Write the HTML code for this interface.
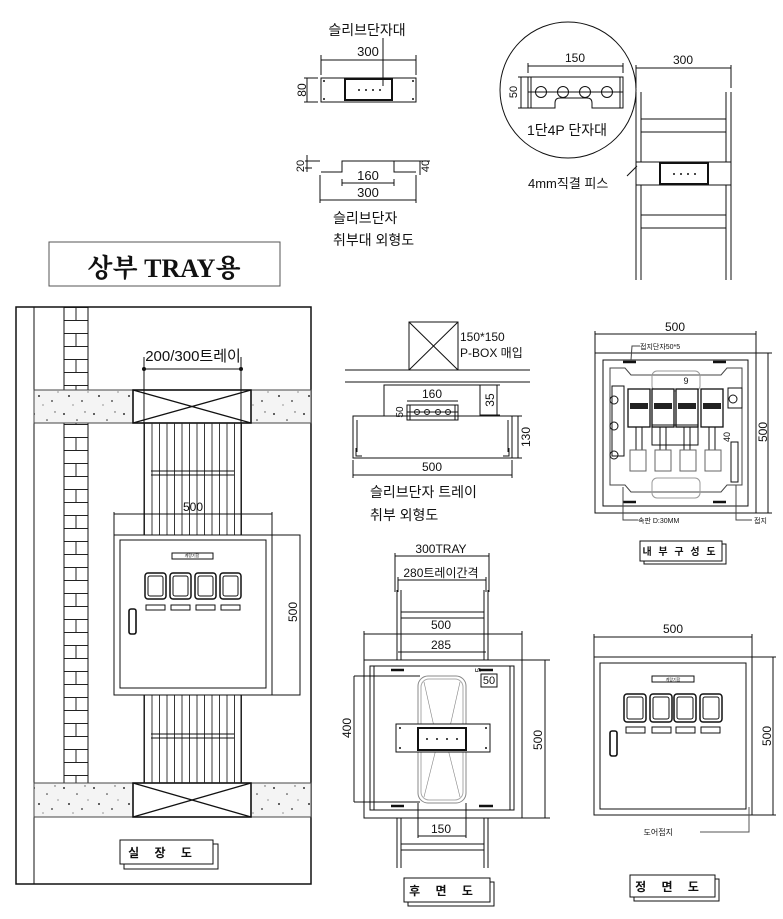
<!DOCTYPE html>
<html><head><meta charset="utf-8"><style>
html,body{margin:0;padding:0;background:#fff}
svg{display:block}
text{font-family:"Liberation Sans","Noto Sans CJK KR",sans-serif;fill:#111}
</style></head><body>
<svg width="783" height="919" viewBox="0 0 783 919" xmlns="http://www.w3.org/2000/svg">
<defs>
<pattern id="conc" width="30" height="34" patternUnits="userSpaceOnUse">
<rect width="30" height="34" fill="#f4f4f4"/>
<circle cx="4" cy="6" r="1" fill="#333"/><circle cx="17" cy="12" r="0.8" fill="#333"/>
<circle cx="25" cy="4" r="0.7" fill="#555"/><circle cx="9" cy="22" r="1" fill="#333"/>
<circle cx="22" cy="27" r="0.9" fill="#333"/><circle cx="13" cy="31" r="0.6" fill="#555"/>
<circle cx="28" cy="18" r="0.6" fill="#555"/>
</pattern>
<pattern id="brick" x="64" y="307" width="24" height="26" patternUnits="userSpaceOnUse">
<rect width="24" height="26" fill="#fff"/>
<line x1="0" y1="0.5" x2="24" y2="0.5" stroke="#222" stroke-width="1"/>
<line x1="0" y1="13.5" x2="24" y2="13.5" stroke="#222" stroke-width="1"/>
<line x1="12" y1="0" x2="12" y2="13" stroke="#222" stroke-width="1"/>
</pattern>
<pattern id="rails" x="144" y="0" width="7.5" height="10" patternUnits="userSpaceOnUse">
<line x1="0.5" y1="0" x2="0.5" y2="10" stroke="#222" stroke-width="0.9"/>
</pattern>
</defs>

<g stroke="#111" fill="none" stroke-width="1">
<line x1="383" y1="38" x2="383" y2="86"/>
<line x1="321" y1="60" x2="416" y2="60"/><line x1="321" y1="55" x2="321" y2="75"/><line x1="416" y1="55" x2="416" y2="75"/>
<rect x="321" y="78" width="95" height="24"/>
<rect x="345" y="79" width="47" height="21" stroke-width="2"/>
<line x1="307" y1="78" x2="307" y2="102"/><line x1="304" y1="78" x2="318" y2="78"/><line x1="304" y1="102" x2="318" y2="102"/>
<polyline points="321,172 342,172 342,161 394,161 394,172 416,172"/>
<line x1="342" y1="183" x2="394" y2="183"/><line x1="342" y1="179" x2="342" y2="186"/><line x1="394" y1="179" x2="394" y2="186"/>
<line x1="320" y1="200" x2="416" y2="200"/><line x1="320" y1="175" x2="320" y2="203"/><line x1="416" y1="175" x2="416" y2="203"/>
<line x1="305" y1="161" x2="320" y2="161"/><line x1="305" y1="168" x2="312" y2="168"/><line x1="307" y1="155" x2="307" y2="172"/>
<line x1="394" y1="161" x2="430" y2="161"/><line x1="420" y1="161" x2="420" y2="175"/>

<circle cx="568" cy="90" r="68"/>
<line x1="528" y1="66" x2="623" y2="66"/><line x1="528" y1="63" x2="528" y2="73"/><line x1="623" y1="63" x2="623" y2="73"/>
<path d="M528,77 H623 V108 H592 V103 Q592,98 587,98 H560 Q555,98 555,103 V108 H528 Z"/>
<line x1="620" y1="77" x2="620" y2="108"/><line x1="531" y1="77" x2="531" y2="108"/>
<line x1="528" y1="92" x2="623" y2="92"/>
<circle cx="541" cy="92" r="5.5"/><circle cx="563" cy="92" r="5.5"/><circle cx="585" cy="92" r="5.5"/><circle cx="607" cy="92" r="5.5"/>
<line x1="521" y1="77" x2="521" y2="108"/><line x1="518" y1="77" x2="528" y2="77"/><line x1="518" y1="108" x2="528" y2="108"/>

<line x1="636" y1="68" x2="731" y2="68"/><line x1="636" y1="65" x2="636" y2="88"/><line x1="731" y1="65" x2="731" y2="88"/>
<line x1="636" y1="92" x2="636" y2="280"/><line x1="641" y1="92" x2="641" y2="280"/>
<line x1="726" y1="92" x2="726" y2="280"/><line x1="731" y1="92" x2="731" y2="280"/>
<line x1="641" y1="119" x2="726" y2="119"/><line x1="641" y1="132" x2="726" y2="132"/>
<line x1="641" y1="215" x2="726" y2="215"/><line x1="641" y1="228" x2="726" y2="228"/>
<rect x="636" y="162" width="95" height="23" fill="#fff"/>
<rect x="660" y="163" width="48" height="21" stroke-width="2"/>
<line x1="627" y1="176" x2="637" y2="166"/>

<rect x="49" y="242" width="231" height="44" stroke="#555"/>

<rect x="16" y="307" width="295" height="577" stroke-width="1.5"/>
<line x1="34" y1="307" x2="34" y2="884"/>
<rect x="64" y="307" width="24" height="476" fill="url(#brick)"/>
<rect x="64" y="307" width="24" height="476"/>
<rect x="34" y="390" width="277" height="33" fill="url(#conc)" stroke="#444"/>
<rect x="34" y="783" width="277" height="34" fill="url(#conc)" stroke="#444"/>
<rect x="133" y="390" width="118" height="33" fill="#fff" stroke-width="1.6"/>
<line x1="133" y1="390" x2="251" y2="423" stroke-width="1.4"/><line x1="133" y1="423" x2="251" y2="390" stroke-width="1.4"/>
<rect x="133" y="783" width="118" height="34" fill="#fff" stroke-width="1.6"/>
<line x1="133" y1="783" x2="251" y2="817" stroke-width="1.4"/><line x1="133" y1="817" x2="251" y2="783" stroke-width="1.4"/>
<rect x="144" y="423" width="98" height="112" fill="url(#rails)" stroke="none"/>
<rect x="144" y="693" width="98" height="90" fill="url(#rails)" stroke="none"/>
<line x1="144" y1="357" x2="144" y2="535"/><line x1="241" y1="357" x2="241" y2="535"/>
<line x1="144" y1="693" x2="144" y2="783"/><line x1="241" y1="693" x2="241" y2="783"/>
<line x1="151" y1="471" x2="234" y2="471"/><line x1="151" y1="475" x2="234" y2="475"/>
<line x1="151" y1="734" x2="234" y2="734"/><line x1="151" y1="738" x2="234" y2="738"/>
<line x1="144" y1="369" x2="241" y2="369"/><circle cx="144" cy="369" r="1.5" fill="#111"/><circle cx="241" cy="369" r="1.5" fill="#111"/>
<line x1="114" y1="514" x2="272" y2="514"/><line x1="114" y1="512" x2="114" y2="535"/><line x1="272" y1="512" x2="272" y2="535"/>
<rect x="114" y="535" width="186" height="160" fill="#fff"/>
<rect x="120" y="540" width="146" height="148"/>
<line x1="272" y1="535" x2="272" y2="695"/>
<rect x="172" y="553" width="41" height="6"/>
<rect x="145" y="573" width="21" height="26" rx="3" stroke-width="1.5"/><rect x="148" y="576" width="15" height="20" rx="2"/>
<rect x="170" y="573" width="21" height="26" rx="3" stroke-width="1.5"/><rect x="173" y="576" width="15" height="20" rx="2"/>
<rect x="195" y="573" width="21" height="26" rx="3" stroke-width="1.5"/><rect x="198" y="576" width="15" height="20" rx="2"/>
<rect x="220" y="573" width="21" height="26" rx="3" stroke-width="1.5"/><rect x="223" y="576" width="15" height="20" rx="2"/>
<rect x="146" y="605" width="19" height="5"/><rect x="171" y="605" width="19" height="5"/><rect x="196" y="605" width="19" height="5"/><rect x="221" y="605" width="19" height="5"/>
<rect x="129" y="609" width="7" height="25" rx="2" stroke-width="1.6"/>
<rect x="124" y="844" width="94" height="25" fill="#fff"/><rect x="120" y="840" width="93" height="24" fill="#fff"/>

<rect x="409" y="322" width="49" height="48"/>
<line x1="409" y1="322" x2="458" y2="370"/><line x1="458" y1="322" x2="409" y2="370"/>
<line x1="345" y1="370" x2="530" y2="370"/><line x1="345" y1="382" x2="530" y2="382"/>
<rect x="384" y="385" width="96" height="31"/>
<line x1="480" y1="385" x2="500" y2="385"/><line x1="480" y1="415" x2="500" y2="415"/><line x1="497" y1="385" x2="497" y2="415"/>
<line x1="407" y1="401" x2="458" y2="401"/>
<rect x="407" y="405" width="51" height="15" fill="#fff"/><line x1="410" y1="405" x2="410" y2="420"/><line x1="455" y1="405" x2="455" y2="420"/>
<line x1="407" y1="412" x2="458" y2="412"/>
<circle cx="417" cy="412" r="2.5"/><circle cx="427" cy="412" r="2.5"/><circle cx="438" cy="412" r="2.5"/><circle cx="448" cy="412" r="2.5"/>
<rect x="353" y="416" width="159" height="42"/>
<line x1="357" y1="420" x2="357" y2="452"/><line x1="508" y1="420" x2="508" y2="452"/>
<polyline points="356,448 356,456 362,456"/><polyline points="509,448 509,456 503,456"/>
<line x1="512" y1="416" x2="522" y2="416"/><line x1="512" y1="458" x2="522" y2="458"/><line x1="518" y1="416" x2="518" y2="458"/>
<line x1="353" y1="460" x2="353" y2="478"/><line x1="512" y1="460" x2="512" y2="478"/><line x1="353" y1="475" x2="512" y2="475"/>

<line x1="395" y1="556" x2="489" y2="556"/><line x1="395" y1="553" x2="395" y2="592"/><line x1="489" y1="553" x2="489" y2="592"/>
<line x1="398" y1="580" x2="486" y2="580"/><line x1="398" y1="577" x2="398" y2="592"/><line x1="486" y1="577" x2="486" y2="592"/>
<line x1="397" y1="590" x2="397" y2="868"/><line x1="401" y1="590" x2="401" y2="868"/>
<line x1="484" y1="590" x2="484" y2="868"/><line x1="488" y1="590" x2="488" y2="868"/>
<line x1="401" y1="612" x2="484" y2="612"/><line x1="401" y1="618" x2="484" y2="618"/>
<line x1="401" y1="844" x2="484" y2="844"/><line x1="401" y1="850" x2="484" y2="850"/>
<line x1="364" y1="634" x2="522" y2="634"/><line x1="364" y1="631" x2="364" y2="660"/><line x1="522" y1="631" x2="522" y2="660"/>
<line x1="398" y1="652" x2="486" y2="652"/>
<rect x="364" y="660" width="158" height="158" fill="#fff"/>
<rect x="370" y="666" width="144" height="144"/><line x1="374" y1="666" x2="374" y2="810"/><line x1="510" y1="666" x2="510" y2="810"/>
<line x1="522" y1="660" x2="550" y2="660"/><line x1="522" y1="818" x2="550" y2="818"/><line x1="545" y1="660" x2="545" y2="818"/>
<line x1="354" y1="676" x2="354" y2="802"/><line x1="354" y1="676" x2="420" y2="676"/><line x1="354" y1="802" x2="420" y2="802"/>
<rect x="418" y="676" width="48" height="127" rx="10" stroke="#888"/>
<rect x="421" y="679" width="42" height="121" rx="8" stroke="#aaa"/>
<line x1="424" y1="682" x2="437" y2="740" stroke="#888" stroke-width="0.6"/><line x1="460" y1="682" x2="447" y2="740" stroke="#888" stroke-width="0.6"/>
<line x1="424" y1="797" x2="437" y2="745" stroke="#888" stroke-width="0.6"/><line x1="460" y1="797" x2="447" y2="745" stroke="#888" stroke-width="0.6"/>
<rect x="396" y="724" width="94" height="28" fill="#fff"/>
<rect x="418" y="728" width="48" height="22" stroke-width="2"/>
<line x1="418" y1="803" x2="418" y2="838"/><line x1="466" y1="803" x2="466" y2="838"/><line x1="418" y1="836" x2="466" y2="836"/>
<line x1="391" y1="670" x2="404" y2="670" stroke-width="2.5"/><line x1="479" y1="670" x2="493" y2="670" stroke-width="2.5"/>
<line x1="391" y1="806" x2="404" y2="806" stroke-width="2.5"/><line x1="479" y1="806" x2="493" y2="806" stroke-width="2.5"/>
<rect x="481" y="674" width="16" height="13"/>
<rect x="408" y="882" width="86" height="24" fill="#fff"/><rect x="404" y="878" width="86" height="24" fill="#fff"/>

<line x1="595" y1="334" x2="756" y2="334"/><line x1="595" y1="331" x2="595" y2="353"/><line x1="756" y1="331" x2="756" y2="353"/>
<rect x="595" y="353" width="161" height="160"/>
<rect x="603" y="360" width="145" height="146"/>
<line x1="756" y1="353" x2="772" y2="353"/><line x1="756" y1="513" x2="772" y2="513"/><line x1="768" y1="353" x2="768" y2="513"/>
<path d="M610,368 H625 L631,375 H721 L727,368 H742 V485 H727 L721,492 H631 L625,485 H610 Z" stroke="#444"/>
<rect x="652" y="371" width="48" height="20" rx="5" stroke="#999"/>
<rect x="652" y="478" width="48" height="20" rx="5" stroke="#999"/>
<line x1="623" y1="362" x2="636" y2="362" stroke-width="2.5"/><line x1="713" y1="362" x2="726" y2="362" stroke-width="2.5"/>
<line x1="623" y1="502" x2="636" y2="502" stroke-width="2.5"/><line x1="713" y1="502" x2="726" y2="502" stroke-width="2.5"/>
<rect x="612" y="386" width="12" height="70"/>
<circle cx="614" cy="400" r="4"/><circle cx="614" cy="426" r="4"/><circle cx="614" cy="455" r="4"/>
<rect x="728" y="388" width="14" height="20"/><circle cx="733" cy="399" r="4"/>
<g fill="#fff" stroke-width="1.3">
<rect x="628" y="389" width="22" height="38"/><rect x="652" y="389" width="22" height="38"/><rect x="676" y="389" width="22" height="38"/><rect x="701" y="389" width="22" height="38"/>
</g>
<g fill="#222" stroke="none">
<rect x="630" y="403" width="18" height="6"/><rect x="654" y="403" width="18" height="6"/><rect x="678" y="403" width="18" height="6"/><rect x="703" y="403" width="18" height="6"/>
</g>
<rect x="652" y="425" width="46" height="20"/>
<line x1="636" y1="427" x2="636" y2="450"/><line x1="642" y1="427" x2="642" y2="450"/>
<line x1="660" y1="427" x2="660" y2="450"/><line x1="666" y1="427" x2="666" y2="450"/>
<line x1="684" y1="427" x2="684" y2="450"/><line x1="690" y1="427" x2="690" y2="450"/>
<line x1="709" y1="427" x2="709" y2="450"/><line x1="715" y1="427" x2="715" y2="450"/>
<rect x="630" y="450" width="16" height="21" stroke="#666"/><rect x="655" y="450" width="16" height="21" stroke="#666"/>
<rect x="680" y="450" width="16" height="21" stroke="#666"/><rect x="705" y="450" width="16" height="21" stroke="#666"/>
<rect x="731" y="442" width="7" height="40"/>
<polyline points="623,487 623,520 638,520" stroke="#444"/>
<polyline points="736,485 736,520 752,520" stroke="#444"/>
<polyline points="640,346 632,346 631,360" stroke="#444"/>
<rect x="644" y="544" width="82" height="20" fill="#fff"/><rect x="640" y="541" width="82" height="20" fill="#fff"/>

<line x1="594" y1="637" x2="752" y2="637"/><line x1="594" y1="634" x2="594" y2="657"/><line x1="752" y1="634" x2="752" y2="657"/>
<rect x="594" y="657" width="158" height="158"/>
<rect x="600" y="663" width="146" height="146"/>
<line x1="752" y1="657" x2="776" y2="657"/><line x1="752" y1="815" x2="776" y2="815"/><line x1="773" y1="657" x2="773" y2="815"/>
<rect x="652" y="676" width="42" height="6"/>
<rect x="624" y="694" width="22" height="28" rx="3" stroke-width="1.5"/><rect x="627" y="697" width="16" height="22" rx="2"/>
<rect x="650" y="694" width="22" height="28" rx="3" stroke-width="1.5"/><rect x="653" y="697" width="16" height="22" rx="2"/>
<rect x="674" y="694" width="22" height="28" rx="3" stroke-width="1.5"/><rect x="677" y="697" width="16" height="22" rx="2"/>
<rect x="700" y="694" width="22" height="28" rx="3" stroke-width="1.5"/><rect x="703" y="697" width="16" height="22" rx="2"/>
<rect x="626" y="727" width="19" height="6"/><rect x="652" y="727" width="19" height="6"/><rect x="676" y="727" width="19" height="6"/><rect x="701" y="727" width="19" height="6"/>
<rect x="610" y="731" width="7" height="25" rx="2" stroke-width="1.6"/>
<polyline points="700,832 749,832 749,807" stroke="#555"/>
<rect x="634" y="879" width="85" height="22" fill="#fff"/><rect x="630" y="875" width="85" height="22" fill="#fff"/>
</g>

<g fill="#111">
<circle cx="359" cy="90" r="1"/><circle cx="366" cy="90" r="1"/><circle cx="373" cy="90" r="1"/><circle cx="380" cy="90" r="1"/>
<circle cx="674" cy="174" r="1"/><circle cx="681" cy="174" r="1"/><circle cx="688" cy="174" r="1"/><circle cx="695" cy="174" r="1"/>
<circle cx="427" cy="739" r="1"/><circle cx="437" cy="739" r="1"/><circle cx="447" cy="739" r="1"/><circle cx="457" cy="739" r="1"/>
<circle cx="324" cy="81" r="1"/><circle cx="413" cy="81" r="1"/><circle cx="324" cy="99" r="1"/><circle cx="413" cy="99" r="1"/>
<circle cx="400" cy="728" r="1"/><circle cx="486" cy="728" r="1"/><circle cx="400" cy="748" r="1"/><circle cx="486" cy="748" r="1"/>
</g>

<text x="367" y="35" font-size="14" text-anchor="middle">슬리브단자대</text>
<text x="368" y="56" font-size="13" text-anchor="middle">300</text>
<text x="302" y="90" font-size="12" text-anchor="middle" transform="rotate(-90 302 90)" dy="4">80</text>
<text x="368" y="180" font-size="13" text-anchor="middle">160</text>
<text x="368" y="197" font-size="13" text-anchor="middle">300</text>
<text x="300" y="166" font-size="11" text-anchor="middle" transform="rotate(-90 300 166)" dy="4">20</text>
<text x="425" y="166" font-size="11" text-anchor="middle" transform="rotate(-90 425 166)" dy="4">40</text>
<text x="333" y="223" font-size="14">슬리브단자</text>
<text x="333" y="245" font-size="14">취부대 외형도</text>
<text x="575" y="62" font-size="12" text-anchor="middle">150</text>
<text x="513" y="92" font-size="11" text-anchor="middle" transform="rotate(-90 513 92)" dy="4">50</text>
<text x="567" y="135" font-size="14" text-anchor="middle">1단4P 단자대</text>
<text x="683" y="64" font-size="12" text-anchor="middle">300</text>
<text x="528" y="188" font-size="13">4mm직결 피스</text>
<text x="164" y="277" font-size="26" font-weight="bold" style="font-family:'Liberation Serif','Noto Serif CJK KR','Noto Serif CJK SC',serif" text-anchor="middle">상부 TRAY용</text>

<text x="193" y="361" font-size="15" text-anchor="middle">200/300트레이</text>
<text x="193" y="511" font-size="12" text-anchor="middle">500</text>
<text x="293" y="612" font-size="12" text-anchor="middle" transform="rotate(-90 293 612)" dy="4">500</text>
<text x="192" y="557" font-size="4" text-anchor="middle">계량기함</text>
<text x="163" y="857" font-size="12" font-weight="bold" text-anchor="middle" letter-spacing="6">실 장 도</text>

<text x="460" y="341" font-size="12">150*150</text>
<text x="460" y="357" font-size="12">P-BOX 매입</text>
<text x="432" y="398" font-size="12" text-anchor="middle">160</text>
<text x="400" y="412" font-size="10" text-anchor="middle" transform="rotate(-90 400 412)" dy="3">50</text>
<text x="490" y="400" font-size="12" text-anchor="middle" transform="rotate(-90 490 400)" dy="4">35</text>
<text x="526" y="437" font-size="12" text-anchor="middle" transform="rotate(-90 526 437)" dy="4">130</text>
<text x="432" y="471" font-size="12" text-anchor="middle">500</text>
<text x="370" y="497" font-size="14">슬리브단자 트레이</text>
<text x="370" y="520" font-size="14">취부 외형도</text>

<text x="441" y="553" font-size="12" text-anchor="middle">300TRAY</text>
<text x="441" y="577" font-size="12" text-anchor="middle">280트레이간격</text>
<text x="441" y="629" font-size="12" text-anchor="middle">500</text>
<text x="441" y="649" font-size="12" text-anchor="middle">285</text>
<text x="489" y="684" font-size="11" text-anchor="middle">50</text>
<text x="478" y="670" font-size="8" text-anchor="middle" transform="rotate(-90 478 670)" dy="3">5</text>
<text x="538" y="740" font-size="12" text-anchor="middle" transform="rotate(-90 538 740)" dy="4">500</text>
<text x="347" y="728" font-size="12" text-anchor="middle" transform="rotate(-90 347 728)" dy="4">400</text>
<text x="441" y="833" font-size="12" text-anchor="middle">150</text>
<text x="444" y="895" font-size="12" font-weight="bold" text-anchor="middle" letter-spacing="6">후 면 도</text>

<text x="675" y="331" font-size="12" text-anchor="middle">500</text>
<text x="640" y="349" font-size="7">접지단자50*5</text>
<text x="686" y="384" font-size="9" text-anchor="middle">9</text>
<text x="727" y="437" font-size="9" text-anchor="middle" transform="rotate(-90 727 437)" dy="3">40</text>
<text x="763" y="432" font-size="12" text-anchor="middle" transform="rotate(-90 763 432)" dy="4">500</text>
<text x="638" y="523" font-size="7">속판 D:30MM</text>
<text x="754" y="523" font-size="7">접지</text>
<text x="680" y="555" font-size="10" font-weight="bold" text-anchor="middle" letter-spacing="2">내 부 구 성 도</text>

<text x="673" y="633" font-size="12" text-anchor="middle">500</text>
<text x="767" y="736" font-size="12" text-anchor="middle" transform="rotate(-90 767 736)" dy="4">500</text>
<text x="673" y="681" font-size="4" text-anchor="middle">계량기함</text>
<text x="673" y="835" font-size="8" text-anchor="end" fill="#444">도어접지</text>
<text x="670" y="891" font-size="12" font-weight="bold" text-anchor="middle" letter-spacing="6">정 면 도</text>
</svg>
</body></html>
